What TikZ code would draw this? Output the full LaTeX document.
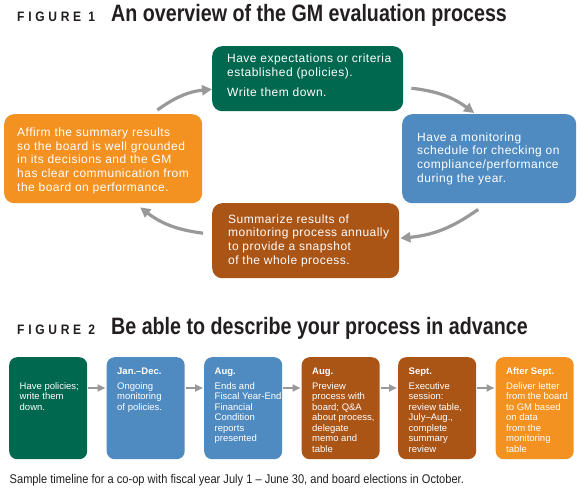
\documentclass[tikz,border=0pt]{standalone}
\usepackage{fontspec}
\setmainfont{Liberation Sans}
\newfontfamily\boxfont{Liberation Sans}
\newfontfamily\titlefont[FakeStretch=0.83]{Liberation Sans}
\newfontfamily\figfont[FakeStretch=0.88,LetterSpace=27]{Liberation Sans}
\newfontfamily\capfont[FakeStretch=0.88]{Liberation Sans}
\usetikzlibrary{calc,arrows.meta}
\definecolor{gmgreen}{RGB}{0,104,79}
\definecolor{gmblue}{RGB}{79,139,193}
\definecolor{gmorange}{RGB}{243,146,33}
\definecolor{gmbrown}{RGB}{170,84,22}
\definecolor{arrowgray}{RGB}{153,153,153}
\definecolor{titlegray}{RGB}{35,31,32}
\begin{document}
\begin{tikzpicture}[x=1pt,y=-1pt,
  bigbox/.style={rounded corners=10pt, inner sep=0pt, anchor=north west},
  tlbox/.style={rounded corners=8pt, inner sep=0pt, anchor=north west, minimum width=78pt, minimum height=102pt},
  bigtxt/.style={anchor=base west, inner sep=0pt, text=white, font=\boxfont\addfontfeatures{LetterSpace=4}\fontsize{12}{13.7}\selectfont},
  tltxt/.style={anchor=base west, inner sep=0pt, text=white, font=\boxfont\fontsize{9.5}{10.5}\selectfont},
  cycarrow/.style={draw=arrowgray, line width=3.2pt, -{Triangle[length=10pt,width=10pt]}},
  tlarrow/.style={draw=arrowgray, line width=2pt, -{Triangle[length=8pt,width=7pt]}},
  titletxt/.style={anchor=base west, inner sep=0pt, text=titlegray, font=\titlefont\bfseries\fontsize{23.7}{28}\selectfont},
  figtxt/.style={anchor=base west, inner sep=0pt, text=titlegray, font=\figfont\bfseries\fontsize{13.7}{16}\selectfont}
]
\useasboundingbox (0,0) rectangle (584,488);
\fill[white] (0,0) rectangle (584,488);

% ---------- Figure 1 ----------
\node[figtxt] (fig1) at (17,21) {FIGURE 1};
\node[titletxt] (title1) at (111,21) {An overview of the GM evaluation process};

\node[bigbox, fill=gmgreen, minimum width=191pt, minimum height=65pt] (green) at (212,46) {};
\node[bigbox, fill=gmorange, minimum width=198pt, minimum height=89pt] (orange) at (4,114) {};
\node[bigbox, fill=gmblue, minimum width=174pt, minimum height=89pt] (blue) at (402,114) {};
\node[bigbox, fill=gmbrown, minimum width=187pt, minimum height=75pt] (brown) at (212,203) {};

\node[bigtxt] (greentxt) at (227,62.3) {\parbox[t]{180pt}{\raggedright Have expectations or criteria\\established (policies).\\[6.3pt]Write them down.}};
\node[bigtxt] (orangetxt) at (17,136.5) {\parbox[t]{190pt}{\raggedright Affirm the summary results\\so the board is well grounded\\in its decisions and the GM\\has clear communication from\\the board on performance.}};
\node[bigtxt] (bluetxt) at (417,141) {\parbox[t]{170pt}{\raggedright Have a monitoring\\schedule for checking on\\compliance/performance\\during the year.}};
\node[bigtxt] (browntxt) at (228,223) {\parbox[t]{180pt}{\raggedright Summarize results of\\monitoring process annually\\to provide a snapshot\\of the whole process.}};

\coordinate (a1s) at ($(orange.north east)+(-45,-4)$);
\coordinate (a1e) at ($(green.west)+(0,10.5)$);
\coordinate (a2s) at ($(green.east)+(8,9.5)$);
\coordinate (a2e) at ($(blue.north)+(-15,-1)$);
\coordinate (a3s) at ($(blue.south)+(-11,6)$);
\coordinate (a3e) at ($(brown.east)+(1,-2.5)$);
\coordinate (a4s) at ($(brown.west)+(-9,-7.5)$);
\coordinate (a4e) at ($(orange.south)+(37,4)$);
\draw[cycarrow] (a1s) to[bend left=15] (a1e);
\draw[cycarrow] (a2s) to[bend left=15] (a2e);
\draw[cycarrow] (a3s) to[bend left=15] (a3e);
\draw[cycarrow] (a4s) to[bend left=15] (a4e);

% ---------- Figure 2 ----------
\node[figtxt] (fig2) at (17,334) {FIGURE 2};
\node[titletxt] (title2) at (111,334) {Be able to describe your process in advance};

\node[tlbox, fill=gmgreen] (b1) at (9,357) {};
\node[tlbox, fill=gmblue] (b2) at (106.5,357) {};
\node[tlbox, fill=gmblue] (b3) at (204,357) {};
\node[tlbox, fill=gmbrown] (b4) at (301.5,357) {};
\node[tlbox, fill=gmbrown] (b5) at (398,357) {};
\node[tlbox, fill=gmorange] (b6) at (495.5,357) {};

\node[tltxt] (b1t) at ($(b1.north west)+(10.5,32)$) {\parbox[t]{80pt}{\raggedright Have policies;\\write them\\down.}};
\node[tltxt] (b2t) at ($(b2.north west)+(10.5,17)$) {\parbox[t]{80pt}{\raggedright\bfseries Jan.–Dec.\\[4.5pt]\mdseries Ongoing\\monitoring\\of policies.}};
\node[tltxt] (b3t) at ($(b3.north west)+(10.5,17)$) {\parbox[t]{80pt}{\raggedright\bfseries Aug.\\[4.5pt]\mdseries Ends and\\Fiscal Year-End\\Financial\\Condition\\reports\\presented}};
\node[tltxt] (b4t) at ($(b4.north west)+(10.5,17)$) {\parbox[t]{80pt}{\raggedright\bfseries Aug.\\[4.5pt]\mdseries Preview\\process with\\board; Q\&A\\about process,\\delegate\\memo and\\table}};
\node[tltxt] (b5t) at ($(b5.north west)+(10.5,17)$) {\parbox[t]{80pt}{\raggedright\bfseries Sept.\\[4.5pt]\mdseries Executive\\session:\\review table,\\July–Aug.,\\complete\\summary\\review}};
\node[tltxt] (b6t) at ($(b6.north west)+(10.5,17)$) {\parbox[t]{80pt}{\raggedright\bfseries After Sept.\\[4.5pt]\mdseries Deliver letter\\from the board\\to GM based\\on data\\from the\\monitoring\\table}};

\draw[tlarrow] ($(b1.north east)+(1,31)$) -- ($(b2.north west)+(-1,31)$);
\draw[tlarrow] ($(b2.north east)+(1,31)$) -- ($(b3.north west)+(-1,31)$);
\draw[tlarrow] ($(b3.north east)+(1,31)$) -- ($(b4.north west)+(-1,31)$);
\draw[tlarrow] ($(b4.north east)+(1,31)$) -- ($(b5.north west)+(-1,31)$);
\draw[tlarrow] ($(b5.north east)+(1,31)$) -- ($(b6.north west)+(-1,31)$);

\node[anchor=base west, inner sep=0pt, text=titlegray, font=\capfont\fontsize{12.6}{14}\selectfont] (caption) at (9.5,483) {Sample timeline for a co-op with fiscal year July 1 – June 30, and board elections in October.};
\end{tikzpicture}
\end{document}
